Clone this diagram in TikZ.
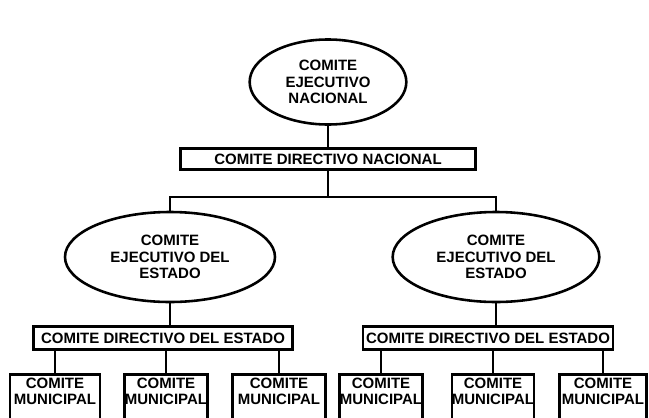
\documentclass[tikz,border=0pt]{standalone}
\usepackage{fontspec}
\setmainfont{Liberation Sans}
\usepackage{tikz}
\usetikzlibrary{shapes.geometric}

\begin{document}
\begin{tikzpicture}[x=0.03cm,y=-0.03cm,line width=2.2pt,
  comite/.style={font=\fontsize{12.8}{14.2}\selectfont\bfseries,align=center,inner sep=0pt},
  ejec/.style={comite,shape=ellipse,draw=black},
  dir/.style={comite,shape=rectangle,draw=black,inner xsep=2pt},
  muni/.style={dir,anchor=north,minimum width=2.55cm,inner xsep=0pt,inner ysep=3pt}]
\clip (0,0) rectangle (649,417);

\node[ejec,minimum width=4.7cm,minimum height=2.55cm] (EN) at (328,82) {COMITE\\EJECUTIVO\\NACIONAL};
\node[dir,minimum width=8.85cm,minimum height=0.62cm] (DN) at (328,159) {COMITE DIRECTIVO NACIONAL};
\draw (EN.south) -- (DN.north);

\coordinate (J) at (328,197);
\node[ejec,minimum width=6.3cm,minimum height=2.7cm] (EA) at (170,257) {COMITE\\EJECUTIVO DEL\\ESTADO};
\node[ejec,minimum width=6.2cm,minimum height=2.7cm] (EB) at (496,257) {COMITE\\EJECUTIVO DEL\\ESTADO};
\draw (DN.south) -- (J);
\draw (EA.north) -- (EA.north |- J) -- (EB.north |- J) -- (EB.north);

\node[dir,minimum width=7.77cm,minimum height=0.68cm] (DA) at (163,338) {COMITE DIRECTIVO DEL ESTADO};
\node[dir,minimum width=7.5cm,minimum height=0.68cm] (DB) at (488,338) {COMITE DIRECTIVO DEL ESTADO};
\draw (EA.south) -- (EA.south |- DA.north);
\draw (EB.south) -- (EB.south |- DB.north);

\node[muni,minimum width=2.7cm] (MA1) at (55,373) {COMITE\\MUNICIPAL\\[14pt]\strut};
\node[muni,minimum width=2.5cm] (MA2) at (166,373) {COMITE\\MUNICIPAL\\[14pt]\strut};
\node[muni,minimum width=2.8cm] (MA3) at (279,373) {COMITE\\MUNICIPAL\\[14pt]\strut};
\draw (MA1.north) -- (MA1.north |- DA.south);
\draw (MA2.north) -- (MA2.north |- DA.south);
\draw (MA3.north) -- (MA3.north |- DA.south);

\node[muni,minimum width=2.5cm] (MB1) at (381,373) {COMITE\\MUNICIPAL\\[14pt]\strut};
\node[muni,minimum width=2.4cm] (MB2) at (493,373) {COMITE\\MUNICIPAL\\[14pt]\strut};
\node[muni,minimum width=2.6cm] (MB3) at (603,373) {COMITE\\MUNICIPAL\\[14pt]\strut};
\draw (MB1.north) -- (MB1.north |- DB.south);
\draw (MB2.north) -- (MB2.north |- DB.south);
\draw (MB3.north) -- (MB3.north |- DB.south);

\end{tikzpicture}
\end{document}
